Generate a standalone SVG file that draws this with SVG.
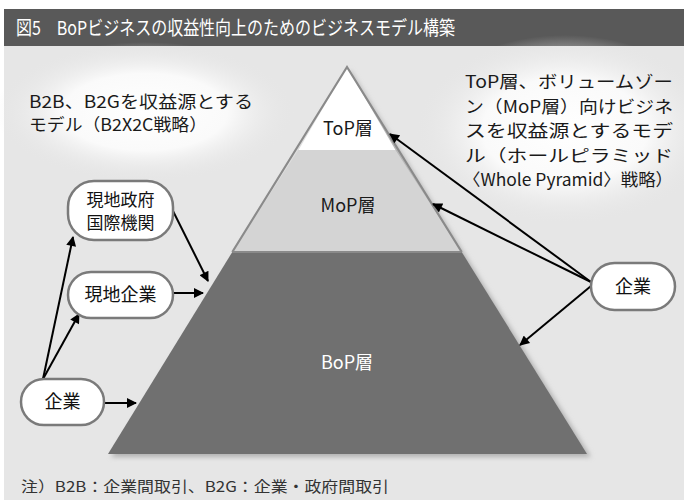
<svg xmlns="http://www.w3.org/2000/svg" width="684" height="500" viewBox="0 0 684 500">
<style>
.jp{font-family:"Noto Sans CJK JP","Noto Sans",sans-serif;}
.node rect{fill:#fff;stroke:#7a7a7a;stroke-width:2.5;}
.node text{font-size:18px;fill:#111;text-anchor:middle;}
.lbl{font-size:17px;fill:#1a1a1a;}
.tier{font-size:18px;text-anchor:middle;}
.conn line{stroke:#000;stroke-width:2;marker-end:url(#ah);}
</style>
<defs>
<marker id="ah" viewBox="0 0 10 10" refX="9" refY="5" markerWidth="6" markerHeight="5" markerUnits="strokeWidth" orient="auto">
<path d="M0,0 L10,5 L0,10 z" fill="#000"/>
</marker>
<radialGradient id="glow" cx="0.5" cy="0.5" r="0.5">
<stop offset="0" stop-color="#ffffff"/>
<stop offset="0.55" stop-color="#fafafa"/>
<stop offset="1" stop-color="#e6e6e6" stop-opacity="0"/>
</radialGradient>
<filter id="sh" x="-10%" y="-10%" width="120%" height="120%">
<feGaussianBlur stdDeviation="2.5"/>
</filter>
</defs>
<rect x="0" y="0" width="684" height="500" fill="#fff"/>
<rect x="4" y="46" width="680" height="454" fill="#e6e6e6"/>
<rect x="4" y="9" width="680" height="37" fill="#595959"/>
<text class="jp" x="16" y="35" font-size="19" fill="#fff" textLength="439" lengthAdjust="spacingAndGlyphs">図5　BoPビジネスの収益性向上のためのビジネスモデル構築</text>
<ellipse cx="145" cy="112" rx="150" ry="70" fill="url(#glow)"/>
<ellipse cx="565" cy="130" rx="150" ry="95" fill="url(#glow)"/>
<g id="pyramid">
<polygon points="350,70 591,457 111,457" fill="#b0b0b0" filter="url(#sh)"/>
<polygon points="347,67 395.5,150 298.5,150" fill="#fff"/>
<polygon points="298.5,150 395.5,150 461.7,252 232.3,252" fill="#d4d4d4"/>
<polygon points="232.3,252 461.7,252 587,454 108,454" fill="#707070"/>
<line x1="232.3" y1="252" x2="461.7" y2="252" stroke="#8a8a8a" stroke-width="2"/>
<polyline points="232.3,252 347,67 461.7,252" fill="none" stroke="#8a8a8a" stroke-width="2.2"/>
<text class="jp tier" x="348" y="135" fill="#1a1a1a">ToP層</text>
<text class="jp tier" x="348" y="212" fill="#1a1a1a">MoP層</text>
<text class="jp tier" x="347" y="369" fill="#fff">BoP層</text>
</g>
<g id="label-left" class="jp lbl">
<text x="29" y="108" textLength="224" lengthAdjust="spacingAndGlyphs">B2B、B2Gを収益源とする</text>
<text x="29" y="131" textLength="178" lengthAdjust="spacingAndGlyphs">モデル（B2X2C戦略）</text>
</g>
<g id="label-right" class="jp lbl">
<text x="465" y="88" textLength="208" lengthAdjust="spacingAndGlyphs">ToP層、ボリュームゾー</text>
<text x="465" y="113" textLength="208" lengthAdjust="spacingAndGlyphs">ン（MoP層）向けビジネ</text>
<text x="465" y="137" textLength="208" lengthAdjust="spacingAndGlyphs">スを収益源とするモデ</text>
<text x="465" y="162" textLength="208" lengthAdjust="spacingAndGlyphs">ル（ホールピラミッド</text>
<text x="463" y="186" textLength="210" lengthAdjust="spacingAndGlyphs">〈Whole Pyramid〉戦略）</text>
</g>
<g id="connectors" class="conn">
<line x1="43" y1="379" x2="73" y2="237"/>
<line x1="43" y1="379" x2="79" y2="314"/>
<line x1="104" y1="403" x2="136" y2="403"/>
<line x1="173" y1="293" x2="203" y2="293"/>
<line x1="173" y1="211" x2="208" y2="281"/>
<line x1="591" y1="282" x2="390" y2="134"/>
<line x1="591" y1="282" x2="433" y2="204"/>
<line x1="591" y1="286" x2="520" y2="345"/>
</g>
<g id="node-gov" class="node jp">
<rect x="68" y="181" width="105" height="59" rx="26"/>
<text x="120.5" y="206" style="font-size:17px">現地政府</text>
<text x="120.5" y="229" style="font-size:17px">国際機関</text>
</g>
<g id="node-local" class="node jp">
<rect x="68" y="272" width="105" height="46" rx="23"/>
<text x="120.5" y="301">現地企業</text>
</g>
<g id="node-firm-left" class="node jp">
<rect x="21" y="379" width="83" height="46" rx="23"/>
<text x="62.5" y="408">企業</text>
</g>
<g id="node-firm-right" class="node jp">
<rect x="591" y="263" width="84" height="47" rx="23.5"/>
<text x="633" y="293">企業</text>
</g>
<text class="jp" x="21" y="492" font-size="15" fill="#333" textLength="368" lengthAdjust="spacingAndGlyphs">注）B2B：企業間取引、B2G：企業・政府間取引</text>
</svg>
